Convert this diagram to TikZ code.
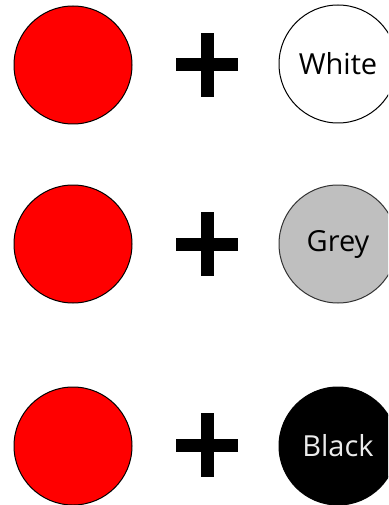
\documentclass[tikz,border=0pt]{standalone}
\usepackage{fontspec}
\setmainfont{Open Sans}
\begin{document}
\begin{tikzpicture}[x=1pt,y=-1pt,
  disc/.style={circle,draw=black,line width=1pt,minimum size=118pt,inner sep=0pt},
  reddisc/.style={disc,fill=red},
  lbl/.style={font=\fontsize{29}{30}\selectfont},
  plusbar/.style={fill=black}]
\useasboundingbox (0,0) rectangle (388,505);
\begin{scope}
\clip (0,0) rectangle (388,505);
% row 1
\node[reddisc] (r1) at (73,65) {};
\node[disc,fill=white,lbl] (c1) at (338,64) {White};
% row 2
\node[reddisc] (r2) at (73,244) {};
\node[disc,fill=black!25,draw=black!80,lbl] (c2) at (338,244) {Grey};
% row 3
\node[reddisc] (r3) at (73,446) {};
\node[disc,fill=black,text=white!92!black,lbl] (c3) at (338,446) {Black};
\end{scope}
% plus signs
\foreach \n/\y in {p1/65,p2/244,p3/445}{
  \coordinate (\n) at (207,\y);
  \fill[plusbar] ([xshift=-31pt,yshift=-6.5pt]\n) rectangle ([xshift=31pt,yshift=6.5pt]\n);
  \fill[plusbar] ([xshift=-6.5pt,yshift=-32pt]\n) rectangle ([xshift=6.5pt,yshift=32pt]\n);
}
\end{tikzpicture}
\end{document}
